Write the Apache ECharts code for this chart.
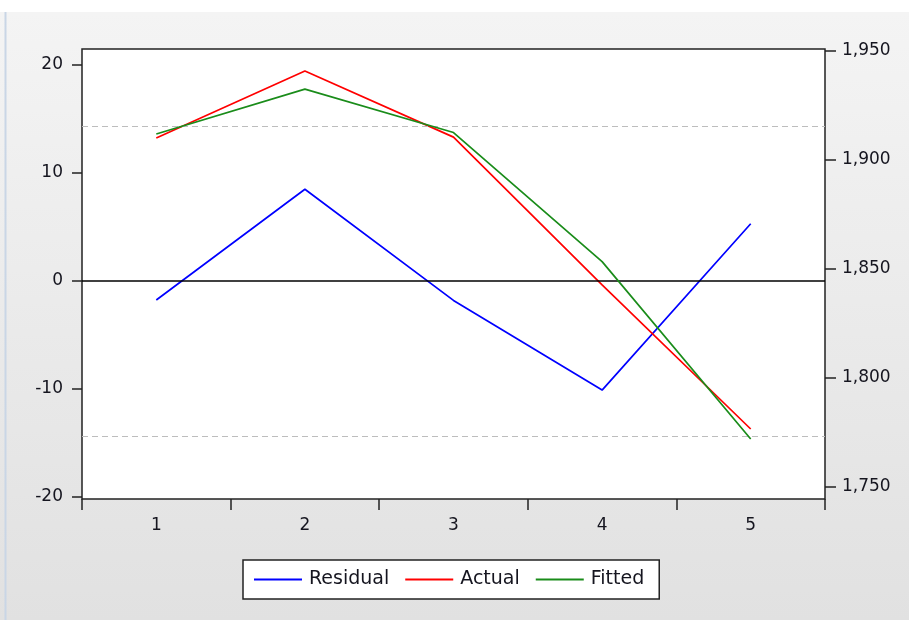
<!DOCTYPE html>
<html>
<head>
<meta charset="utf-8">
<script src="https://cdn.jsdelivr.net/npm/echarts@6/dist/echarts.min.js"></script>
<style>html,body{margin:0;padding:0;background:#fff;}#c{width:909px;height:620px;}</style>
</head>
<body>
<div id="c"></div>
<script>
var categories = ['1', '2', '3', '4', '5'];
var residual = [-1.76, 8.5, -1.8, -10.1, 5.3];
var actual = [1910.1, 1940.8, 1910.5, 1842.7, 1776.6];
var fitted = [1911.9, 1932.5, 1912.6, 1853.4, 1772.0];
var leftTicks = { min: -20, max: 20, interval: 10 };
var rightTicks = { min: 1750, max: 1950, interval: 50 };
var bandLevel = 14.35;

var FONT = 'DejaVu Sans';
var TXT = '#15151f';

var chart = echarts.init(document.getElementById('c'), null, { renderer: 'canvas' });
chart.setOption({
  animation: false,
  backgroundColor: '#ffffff',
  graphic: [
    {
      type: 'rect', z: -10, silent: true,
      shape: { x: 0, y: 12, width: 909, height: 608 },
      style: { fill: new echarts.graphic.LinearGradient(0, 0, 0, 1, [
        { offset: 0, color: '#f4f4f4' }, { offset: 1, color: '#e1e1e1' }]) }
    },
    {
      type: 'line', z: -9, silent: true,
      shape: { x1: 5.5, y1: 12, x2: 5.5, y2: 620 },
      style: { stroke: '#c9d6e6', lineWidth: 2 }
    }
  ],
  grid: [
    { left: 82, right: 84, top: 49, bottom: 121, show: true, backgroundColor: '#ffffff', borderColor: '#222222', borderWidth: 1.5 },
    { left: 82, right: 84, top: 65, bottom: 123, show: false },
    { left: 82, right: 84, top: 51, bottom: 133, show: false }
  ],
  legend: {
    left: 243, top: 560,
    data: ['Residual', 'Actual', 'Fitted'],
    icon: 'rect',
    itemWidth: 48, itemHeight: 2, itemGap: 16,
    padding: [10, 15, 10, 11],
    backgroundColor: '#ffffff', borderColor: '#222222', borderWidth: 1.5,
    textStyle: { fontFamily: FONT, fontSize: 19, color: TXT, padding: [0, 0, 0, 2] }
  },
  xAxis: [
    {
      type: 'category', gridIndex: 0, data: categories, boundaryGap: true,
      axisLine: { show: false },
      axisTick: { show: true, inside: false, length: 11, lineStyle: { color: '#222', width: 1.5 } },
      axisLabel: { fontFamily: FONT, fontSize: 17, color: TXT, margin: 18 }
    },
    { type: 'category', gridIndex: 1, data: categories, boundaryGap: true, show: false },
    { type: 'category', gridIndex: 2, data: categories, boundaryGap: true, show: false }
  ],
  yAxis: [
    { type: 'value', gridIndex: 0, show: false, min: 0, max: 1 },
    {
      type: 'value', gridIndex: 1, position: 'left',
      min: leftTicks.min, max: leftTicks.max, interval: leftTicks.interval,
      axisLine: { show: false },
      axisTick: { show: true, inside: false, length: 10, lineStyle: { color: '#222', width: 1.5 } },
      splitLine: { show: false },
      axisLabel: { fontFamily: FONT, fontSize: 17, color: TXT, margin: 19 }
    },
    {
      type: 'value', gridIndex: 2, position: 'right',
      min: rightTicks.min, max: rightTicks.max, interval: rightTicks.interval,
      axisLine: { show: false },
      axisTick: { show: true, inside: false, length: 11, lineStyle: { color: '#222', width: 1.5 } },
      splitLine: { show: false },
      axisLabel: { fontFamily: FONT, fontSize: 17, color: TXT, margin: 17,
        formatter: function (v) { return v.toLocaleString('en-US'); } }
    }
  ],
  series: [
    {
      name: 'Residual', type: 'line', xAxisIndex: 1, yAxisIndex: 1,
      data: residual, symbol: 'none', z: 3,
      lineStyle: { color: '#0000ff', width: 1.7 }, itemStyle: { color: '#0000ff' },
      markLine: {
        silent: true, symbol: 'none', label: { show: false }, animation: false,
        data: [
          { yAxis: 0, lineStyle: { color: '#000000', width: 1.7, type: 'solid' } },
          { yAxis: bandLevel, lineStyle: { color: '#bdbdbd', width: 1.2, type: [6, 4] } },
          { yAxis: -bandLevel, lineStyle: { color: '#bdbdbd', width: 1.2, type: [6, 4] } }
        ]
      }
    },
    {
      name: 'Actual', type: 'line', xAxisIndex: 2, yAxisIndex: 2,
      data: actual, symbol: 'none', z: 4,
      lineStyle: { color: '#ff0000', width: 1.7 }, itemStyle: { color: '#ff0000' }
    },
    {
      name: 'Fitted', type: 'line', xAxisIndex: 2, yAxisIndex: 2,
      data: fitted, symbol: 'none', z: 5,
      lineStyle: { color: '#1a8c1a', width: 1.7 }, itemStyle: { color: '#1a8c1a' }
    }
  ]
});
</script>
</body>
</html>
